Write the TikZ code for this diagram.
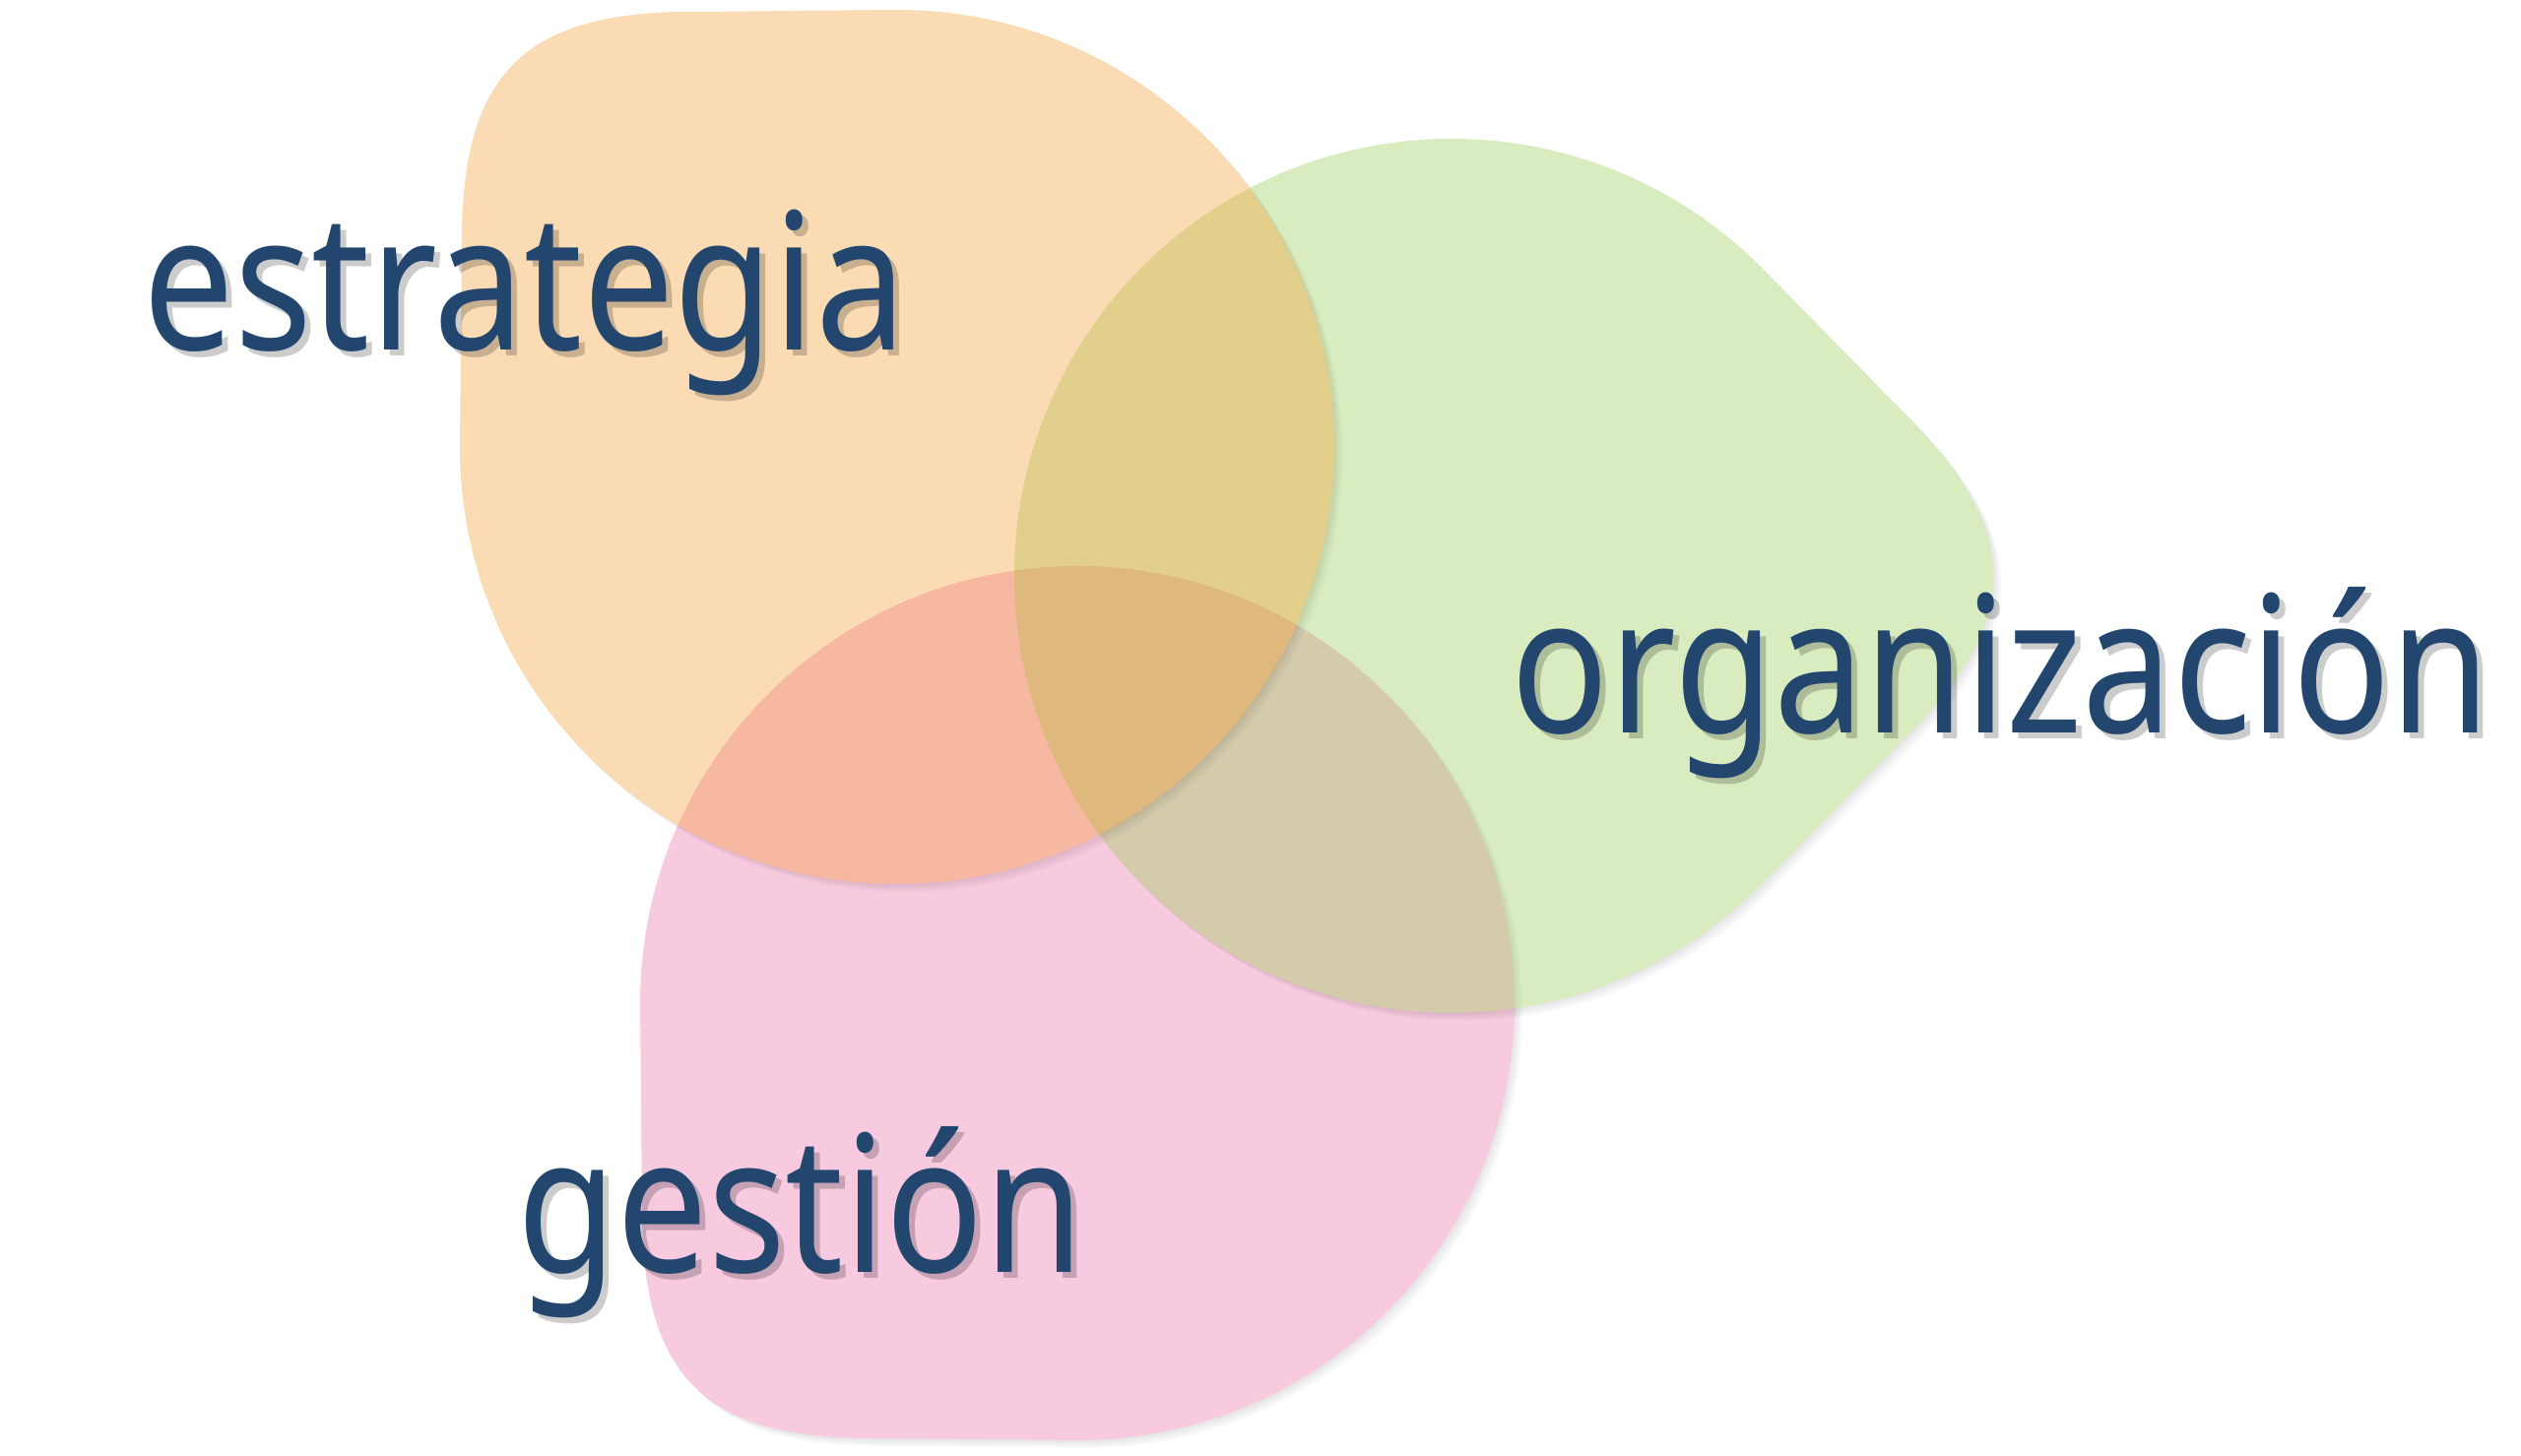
\documentclass[tikz,border=0pt]{standalone}
\usepackage{fontspec}
\newfontfamily\wordfont[FakeStretch=0.85]{Noto Sans}
\definecolor{naranja}{RGB}{243,152,37}
\definecolor{verde}{RGB}{152,204,85}
\definecolor{rosa}{RGB}{235,106,169}
\definecolor{azul}{HTML}{23466F}
\newcommand\blobpath{(-444,0)--(-442,200)..controls(-444,380)and(-380,444)..(-200,442)--(0,444)arc[start angle=90,end angle=-180,radius=444]--cycle}
\newcommand\blob[4]{%
	\begin{scope}
		\clip[shift={(#1,#2)},rotate=#3](-1600,-1600)--(1600,-1600)--(1600,1600)--(-1600,1600)--cycle\blobpath;
		\foreach\off in{2,4,6,8}
			\fill[black,opacity=0.025,shift={(#1+\off,#2-\off)},rotate=#3]\blobpath;
	\end{scope}
	\fill[#4,shift={(#1,#2)},rotate=#3]\blobpath;
}
\begin{document}
\begin{tikzpicture}[x=0.1mm,y=0.1mm]
	\tikzset{word/.style={font=\wordfont\fontsize{55}{62}\selectfont,text=azul,anchor=base,inner sep=0pt},
		wordshadow/.style={word,text=black,opacity=0.2}}
	\fill[white](0,0)rectangle(2560,1479);
	\useasboundingbox(0,0)rectangle(2560,1479);
	\blob{1094}{460}{90}{rosa,fill opacity=0.35}
	\blob{1474}{894}{-135}{verde,fill opacity=0.37}
	\blob{911}{1025}{0}{naranja,fill opacity=0.34}
	\node at(539,1117)[wordshadow]{estrategia};
	\node(estr)at(533,1123)[word]{estrategia};
	\node at(2038,728)[wordshadow]{organización};
	\node(orga)at(2032,734)[word]{organización};
	\node at(819,180)[wordshadow]{gestión};
	\node(gest)at(813,186)[word]{gestión};
\end{tikzpicture}
\end{document}
